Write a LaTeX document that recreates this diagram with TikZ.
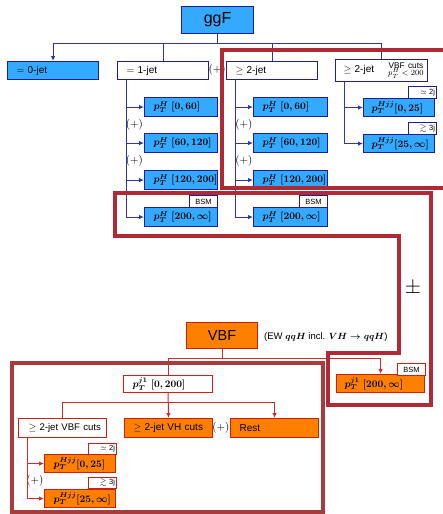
\documentclass[tikz,border=0pt]{standalone}
\usepackage[no-math]{fontspec}
\setmainfont{Liberation Sans}
\usepackage{amsmath,amssymb}
\usetikzlibrary{arrows.meta,calc}
\definecolor{bfill}{HTML}{33AAFF}
\definecolor{bdraw}{HTML}{1E1E96}
\definecolor{bline}{HTML}{3232B4}
\definecolor{ofill}{HTML}{FF8000}
\definecolor{odraw}{HTML}{D01E10}
\definecolor{rlinec}{HTML}{D42A2A}
\definecolor{framea}{HTML}{B02A35}
\definecolor{frameb}{HTML}{A83C3C}
\begin{document}
\begin{tikzpicture}[x=1pt,y=-1pt,
  base/.style={draw, line width=1.1pt, anchor=north west, inner sep=0pt, font=\fontsize{10}{12}\selectfont},
  bb/.style={base, draw=bdraw, fill=bfill},
  wb/.style={base, draw=bdraw, fill=white},
  ob/.style={base, draw=odraw, fill=ofill},
  wr/.style={base, draw=odraw, fill=white},
  lt/.style={text width=#1, align=left, inner xsep=9pt},
  bm/.style={font=\fontsize{10}{12}\selectfont\boldmath},
  tagb/.style={draw=bdraw, fill=white, line width=0.9pt, minimum width=28pt, minimum height=12pt, inner sep=0pt, anchor=north west, font=\fontsize{7.5}{8}\selectfont},
  tago/.style={tagb, draw=odraw},
  tr/.style={text width=25pt, align=right, inner xsep=1.5pt},
  blin/.style={draw=bline, line width=1pt},
  rlin/.style={draw=rlinec, line width=1pt},
  arr/.style={-{Latex[length=5pt,width=4.5pt]}},
  pl/.style={inner sep=0pt, font=\fontsize{10.5}{12}\selectfont},
  frm/.style={draw=framea, line width=4pt, line join=miter},
]
\useasboundingbox[fill=white] (0,0) rectangle (442,514);

% ---------- ggF part ----------
\node[bb, minimum width=72pt, minimum height=27pt, font=\fontsize{16}{16}\selectfont] (ggf) at (181,6) {ggF};
\node[bb, lt=73pt, minimum height=18pt] (j0) at (7,61) {$=$ 0-jet};
\node[wb, lt=73pt, minimum height=18pt] (j1) at (117,61) {$=$ 1-jet};
\node[pl, anchor=west] (plus0) at (208.5,70) {$(+)$};
\node[wb, lt=73pt, minimum height=18pt] (j2) at (226,61) {$\geq$ 2-jet};
\node[wb, lt=84pt, inner xsep=4pt, minimum height=22pt] (jv) at (335,59) {\hspace{4pt}$\geq$ 2-jet\hfill{\fontsize{8.3}{8}\selectfont\begin{tabular}{@{}c@{}}VBF cuts\\[-2.5pt] $p_T^H<200$\end{tabular}}};

\coordinate (bus) at ($(ggf.south)+(0,9)$);
\draw[blin] (ggf.south) -- (bus);
\draw[blin,arr] (bus) -| (j0.north);
\draw[blin] (bus) -| (jv.north);
\draw[blin] (j1.north) -- (j1.north |- bus);
\draw[blin] (j2.north) -- (j2.north |- bus);

% column 1
\node[bb, bm, lt=55pt, minimum height=19pt] (a1) at (144,97) {$p_T^H\;[0,60]$};
\node[bb, bm, lt=55pt, minimum height=19pt] (a2) at (144,133) {$p_T^H\;[60,120]$};
\node[bb, bm, lt=55pt, minimum height=19pt] (a3) at (144,170) {$p_T^H\;[120,200]$};
\node[bb, bm, lt=55pt, minimum height=19pt] (a4) at (144,207) {$p_T^H\;[200,\infty]$};
\node[tagb] (ta4) at (189,195) {BSM};
\coordinate (c1) at ($(j1.south west)+(9,0)$);
\draw[blin,arr] (c1) |- (a1.west);
\draw[blin,arr] (c1) |- (a2.west);
\draw[blin,arr] (c1) |- (a3.west);
\draw[blin,arr] (c1) |- (a4.west);
\node[pl] (pa1) at (134.5,125) {$(+)$};
\node[pl] (pa2) at (134.5,161) {$(+)$};

% column 2
\node[bb, bm, lt=56pt, minimum height=19pt] (b1) at (253,97) {$p_T^H\;[0,60]$};
\node[bb, bm, lt=56pt, minimum height=19pt] (b2) at (253,133) {$p_T^H\;[60,120]$};
\node[bb, bm, lt=56pt, minimum height=19pt] (b3) at (253,170) {$p_T^H\;[120,200]$};
\node[bb, bm, lt=56pt, minimum height=19pt] (b4) at (253,207) {$p_T^H\;[200,\infty]$};
\node[tagb] (tb4) at (299,195) {BSM};
\coordinate (c2) at ($(j2.south west)+(9,0)$);
\draw[blin,arr] (c2) |- (b1.west);
\draw[blin,arr] (c2) |- (b2.west);
\draw[blin,arr] (c2) |- (b3.west);
\draw[blin,arr] (c2) |- (b4.west);
\node[pl] (pb1) at (244,125) {$(+)$};
\node[pl] (pb2) at (244,161) {$(+)$};

% column 3
\node[bb, bm, lt=55pt, inner xsep=8pt, minimum height=18pt] (v1) at (363,98) {$p_T^{Hjj}[0,25]$};
\node[bb, bm, lt=55pt, inner xsep=8pt, minimum height=18pt] (v2) at (363,134) {$p_T^{Hjj}[25,\infty]$};
\node[tagb, tr] (tv1) at (408,86) {$\simeq$ 2j};
\node[tagb, tr] (tv2) at (408,122) {$\gtrsim$ 3j};
\coordinate (c3) at ($(jv.south west)+(9,0)$);
\draw[blin,arr] (c3) |- (v1.west);
\draw[blin,arr] (c3) |- (v2.west);

% ---------- VBF part ----------
\node[ob, minimum width=71pt, minimum height=26pt, font=\fontsize{14.5}{15}\selectfont] (vbf) at (186,322) {VBF};
\node[anchor=west, inner sep=0pt, font=\fontsize{9.5}{10}\selectfont\boldmath] (ew) at (264,337) {(EW $qqH$ incl. $VH\rightarrow qqH$)};

\node[ob, bm, lt=72pt, inner xsep=8pt, minimum height=18pt] (bsmv) at (336,374) {$p_T^{j1}\;[200,\infty]$};
\node[tago] (tbsmv) at (397,363) {BSM};
\node[wr, bm, lt=71pt, minimum height=17pt] (pj) at (123,375) {$p_T^{j1}\;[0,200]$};
\node[wr, lt=84pt, inner xsep=2pt, minimum height=19pt, font=\fontsize{9.6}{12}\selectfont] (vl) at (18,418) {\hspace{8pt}$\geq$ 2-jet VBF cuts};
\node[ob, lt=70pt, minimum height=19pt] (vh) at (124,418) {$\geq$ 2-jet VH cuts};
\node[ob, lt=70pt, minimum height=19pt] (rest) at (230,418) {Rest};
\node[pl] (pmid) at (221,427.5) {$(+)$};

\node[ob, bm, lt=53pt, minimum height=18pt] (l1) at (44,454) {$p_T^{Hjj}[0,25]$};
\node[ob, bm, lt=53pt, minimum height=18pt] (l2) at (44,489) {$p_T^{Hjj}[25,\infty]$};
\node[tago, tr, minimum height=11pt] (tl1) at (88,443) {$\simeq$ 2j};
\node[tago, tr, minimum height=11pt] (tl2) at (88,477) {$\gtrsim$ 3j};
\node[pl] (pl1) at (35,481) {$(+)$};

\coordinate (vb) at ($(vbf.south)+(0,9)$);
\draw[rlin] (vbf.south) -- (vb);
\draw[rlin] (vb) -| (pj.north);
\draw[rlin,arr] (vb) -| (bsmv.north);
\draw[rlin,arr] (pj.south) -- (vh.north);
\coordinate (vb2) at ($(pj.south)+(0,9)$);
\draw[rlin] (vb2) -| (vl.north);
\draw[rlin,arr] (vb2) -| (rest.north);
\coordinate (c4) at ($(vl.south west)+(9,0)$);
\draw[rlin,arr] (c4) |- (l1.west);
\draw[rlin,arr] (c4) |- (l2.west);

% ---------- frames ----------
\draw[frm] (446,50) -- (222,50) -- (222,188) -- (446,188);
\draw[frm] (115,193) -- (431,193) -- (431,405) -- (328,405) -- (328,353) -- (399,353) -- (399,236) -- (115,236) -- cycle;
\draw[frm, draw=frameb] (12,363) rectangle (323,512);
\node[inner sep=0pt, font=\fontsize{20}{20}\selectfont] (pm) at (413,288) {$\pm$};
\end{tikzpicture}
\end{document}
